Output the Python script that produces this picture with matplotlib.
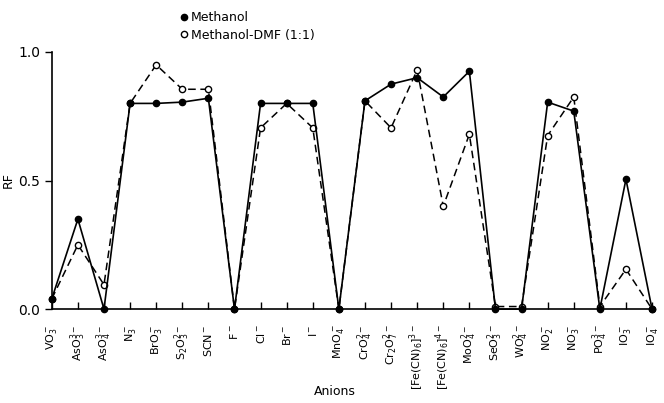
import matplotlib.pyplot as plt
from matplotlib.lines import Line2D

# anions on the x axis
anions = [r'VO$_3^-$', r'AsO$_3^{3-}$', r'AsO$_4^{3-}$', r'N$_3^-$', r'BrO$_3^-$',
          r'S$_2$O$_3^{2-}$', r'SCN$^-$', r'F$^-$', r'Cl$^-$', r'Br$^-$', r'I$^-$',
          r'MnO$_4^-$', r'CrO$_4^{2-}$', r'Cr$_2$O$_7^{2-}$', r'[Fe(CN)$_6$]$^{3-}$',
          r'[Fe(CN)$_6$]$^{4-}$', r'MoO$_4^{2-}$', r'SeO$_3^{2-}$', r'WO$_4^{2-}$',
          r'NO$_2^-$', r'NO$_3^-$', r'PO$_4^{3-}$', r'IO$_3^-$', r'IO$_4^-$']

# RF values
methanol = [0.04, 0.35, 0.0, 0.80, 0.80, 0.805, 0.82, 0.0, 0.80, 0.80, 0.80, 0.0,
            0.81, 0.875, 0.90, 0.825, 0.925, 0.0, 0.0, 0.805, 0.77, 0.0, 0.505, 0.0]
methanol_dmf = [0.04, 0.25, 0.095, 0.80, 0.95, 0.855, 0.855, 0.0, 0.705, 0.80, 0.705, 0.0,
                0.81, 0.705, 0.93, 0.40, 0.68, 0.01, 0.01, 0.675, 0.825, 0.01, 0.155, 0.0]

yticks = [0.0, 0.5, 1.0]

fig = plt.figure(figsize=(6.64, 4.03), dpi=100)
ax = fig.add_axes([0.078, 0.233, 0.904, 0.638])

x = list(range(len(anions)))
ax.plot(x, methanol_dmf, 'k--', lw=1.1, dashes=(5, 3), marker='o', ms=4.5,
        mfc='white', mec='black', mew=1.0, clip_on=False, zorder=3)
ax.plot(x, methanol, 'k-', lw=1.2, marker='o', ms=4.5, mfc='black', mec='black',
        clip_on=False, zorder=4)

ax.set_xlim(0, len(anions) - 1)
ax.set_ylim(0, 1.0)
ax.set_yticks(yticks)
ax.set_yticklabels(['%.1f' % v for v in yticks], fontsize=10)
ax.set_xticks(x)
ax.set_xticklabels(anions, rotation=90, fontsize=8, va='top')
ax.tick_params(axis='x', direction='in', length=5, pad=11, width=1)
ax.tick_params(axis='y', direction='out', length=5, width=1)

for s in ['top', 'right']:
    ax.spines[s].set_visible(False)
for s in ['left', 'bottom']:
    ax.spines[s].set_linewidth(1.2)

ax.set_ylabel('RF', fontsize=9, labelpad=2)
fig.text(0.505, 0.02, 'Anions', ha='center', fontsize=9)

handles = [Line2D([], [], ls='none', marker='o', ms=4.5, mfc='black', mec='black'),
           Line2D([], [], ls='none', marker='o', ms=4.5, mfc='white', mec='black')]
fig.legend(handles, ['Methanol', 'Methanol-DMF (1:1)'], loc='upper left',
           bbox_to_anchor=(0.25, 1.0), frameon=False, fontsize=9,
           handletextpad=0.1, labelspacing=0.35, handlelength=1.0)

fig.savefig('out.png', dpi=100)
